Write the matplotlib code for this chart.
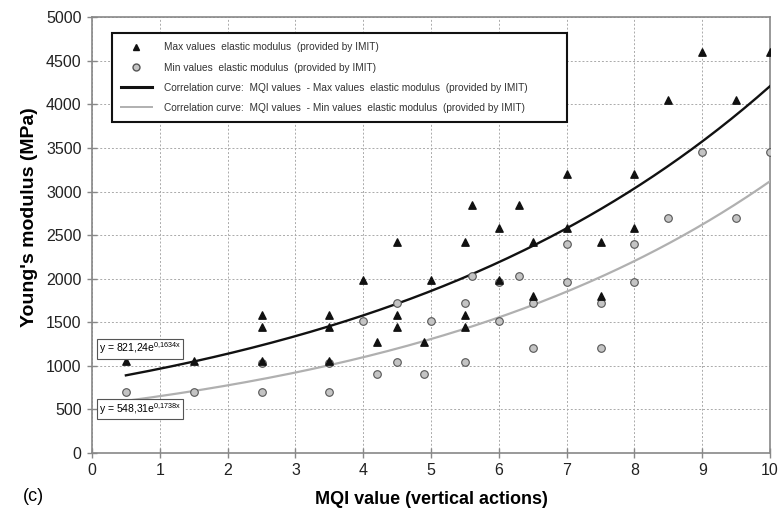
import numpy as np
import matplotlib
matplotlib.use('Agg')
import matplotlib.pyplot as plt
from matplotlib.lines import Line2D

plt.rcParams['font.family'] = ['Liberation Sans', 'DejaVu Sans']

# Max values elastic modulus (triangles)
max_x = [0.5, 1.5, 2.5, 2.5, 2.5, 3.5, 3.5, 3.5, 4.0, 4.2, 4.5, 4.5, 4.5, 4.9, 5.0,
         5.5, 5.5, 5.5, 5.6, 6.0, 6.0, 6.3, 6.5, 6.5, 7.0, 7.0, 7.5, 7.5, 8.0, 8.0,
         8.5, 9.0, 9.5, 10.0]
max_y = [1060, 1060, 1060, 1450, 1580, 1060, 1450, 1580, 1980, 1270, 1450, 1580, 2420, 1270, 1980,
         1450, 1580, 2420, 2840, 1980, 2580, 2840, 1800, 2420, 2580, 3200, 1800, 2420, 2580, 3200,
         4050, 4600, 4050, 4600]

# Min values elastic modulus (circles)
min_x = [0.5, 1.5, 2.5, 2.5, 3.5, 3.5, 4.0, 4.2, 4.5, 4.5, 4.9, 5.0, 5.5, 5.5, 5.6,
         6.0, 6.0, 6.3, 6.5, 6.5, 7.0, 7.0, 7.5, 7.5, 8.0, 8.0, 8.5, 9.0, 9.5, 10.0]
min_y = [700, 700, 700, 1030, 700, 1030, 1510, 910, 1040, 1720, 910, 1510, 1040, 1720, 2030,
         1510, 1960, 2030, 1210, 1720, 1960, 2400, 1210, 1720, 1960, 2400, 2700, 3450, 2700, 3450]

# exponential fits y = a * exp(b x)
fit_max = (821.24, 0.1634)
fit_min = (548.31, 0.1738)

fig = plt.figure(figsize=(7.83, 5.2), dpi=100)
ax = fig.add_axes([0.1175, 0.1288, 0.8659, 0.8382])

xs = np.linspace(0.5, 10, 200)
ax.plot(xs, fit_max[0] * np.exp(fit_max[1] * xs), color='#111111', lw=1.7, zorder=3)
ax.plot(xs, fit_min[0] * np.exp(fit_min[1] * xs), color='#b0b0b0', lw=1.6, zorder=3)

ax.scatter(min_x, min_y, marker='o', s=30, facecolor='#c4c4c4', edgecolor='#555555',
           linewidth=0.8, zorder=4)
ax.scatter(max_x, max_y, marker='^', s=28, color='#111111', zorder=5)

ax.set_xlim(0, 10)
ax.set_ylim(0, 5000)
ax.set_xticks(range(0, 11))
ax.set_yticks(range(0, 5001, 500))
ax.grid(True, linestyle=(0, (2, 2)), color='#aaaaaa', lw=0.7)
ax.set_axisbelow(True)

for s in ax.spines.values():
    s.set_color('#888888')
    s.set_linewidth(1.2)

ax.tick_params(direction='inout', length=7, color='#888888', width=1, pad=4)
for lab in ax.get_xticklabels():
    lab.set_family(['Liberation Sans Narrow', 'Liberation Sans'])
    lab.set_fontsize(11.5)
    lab.set_color('#222222')
for lab in ax.get_yticklabels():
    lab.set_fontsize(11.5)
    lab.set_color('#222222')

ax.set_xlabel('MQI value (vertical actions)', fontsize=13, fontweight='bold',
              family=['Liberation Sans Narrow', 'Liberation Sans'], labelpad=9)
ax.set_ylabel("Young's modulus (MPa)", fontsize=14, fontweight='bold')
ax.yaxis.set_label_coords(-0.08, 0.541)

fig.text(0.029, 0.045, '(c)', fontsize=13, va='center')

# equations
ax.text(0.1, 1198, r'y = 821,24e$^{\mathregular{0{,}1634x}}$', fontsize=7.5, va='center',
        bbox=dict(boxstyle='square,pad=0.2', fc='white', ec='#555555', lw=0.8), zorder=6)
ax.text(0.1, 505, r'y = 548,31e$^{\mathregular{0{,}1738x}}$', fontsize=7.5, va='center',
        bbox=dict(boxstyle='square,pad=0.2', fc='white', ec='#555555', lw=0.8), zorder=6)

handles = [
    Line2D([], [], marker='^', color='#111111', ls='none', ms=5),
    Line2D([], [], marker='o', mfc='#c4c4c4', mec='#555555', ls='none', ms=5),
    Line2D([], [], color='#111111', lw=2.2),
    Line2D([], [], color='#b0b0b0', lw=1.4),
]
labels = [
    'Max values  elastic modulus  (provided by IMIT)',
    'Min values  elastic modulus  (provided by IMIT)',
    'Correlation curve:  MQI values  - Max values  elastic modulus  (provided by IMIT)',
    'Correlation curve:  MQI values  - Min values  elastic modulus  (provided by IMIT)',
]
leg = ax.legend(handles, labels, loc='upper left', bbox_to_anchor=(0.0295, 0.963, 0.671, 0.0),
                mode='expand', fontsize=7.3, frameon=True, fancybox=False, framealpha=1,
                edgecolor='#111111', labelspacing=1.0, handlelength=3, handletextpad=1.2,
                borderpad=0.9, borderaxespad=0)
leg.get_frame().set_linewidth(1.5)
for t in leg.get_texts():
    t.set_color('#333333')

fig.savefig('out.png', dpi=100)
